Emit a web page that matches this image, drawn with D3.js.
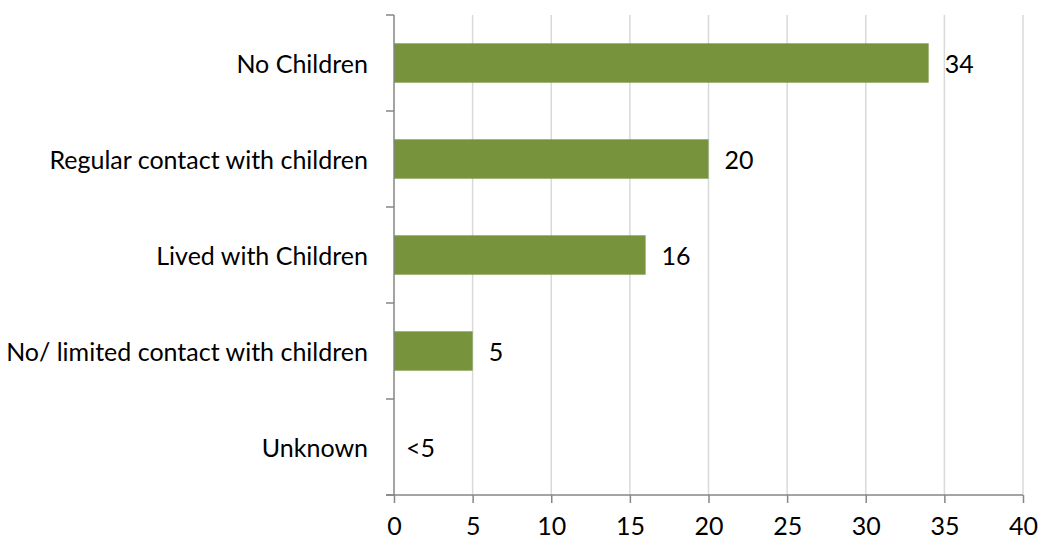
<!DOCTYPE html>
<html><head><meta charset="utf-8">
<script src="https://cdn.jsdelivr.net/npm/d3@7"></script>
<style>body{margin:0;background:#fff}svg text{font-family:Lato,"Open Sans",sans-serif;fill:#000}</style>
</head><body><svg id="c" width="1041" height="540"></svg>
<script>
const categories = ["No Children","Regular contact with children","Lived with Children","No/ limited contact with children","Unknown"];
const values = [34,20,16,5,0];
const valueLabels = ["34","20","16","5","<5"];
const xTicks = [0,5,10,15,20,25,30,35,40];

const W=1041,H=540,m={top:15,right:18,bottom:45,left:394};
const svg=d3.select("#c");
const x=d3.scaleLinear().domain([0,40]).range([m.left,W-m.right]);
const y=d3.scaleBand().domain(categories).range([m.top,H-m.bottom]).paddingInner(0.59).paddingOuter(0.295);
const fs=25;
// gridlines
svg.append("g").selectAll("line").data(xTicks.filter(d=>d>0)).join("line")
 .attr("x1",d=>x(d)).attr("x2",d=>x(d)).attr("y1",m.top).attr("y2",H-m.bottom)
 .attr("stroke","#D9D9D9").attr("stroke-width",1.5);
// bars
svg.append("g").selectAll("rect").data(values).join("rect")
 .attr("x",x(0)).attr("y",(d,i)=>y(categories[i])).attr("width",d=>x(d)-x(0)).attr("height",y.bandwidth())
 .attr("fill","#77933C");
// value labels
svg.append("g").selectAll("text").data(values).join("text")
 .attr("x",d=>x(d)+(d>0?16:12)).attr("y",(d,i)=>y(categories[i])+y.bandwidth()/2).attr("dy","0.38em")
 .attr("font-size",fs).text((d,i)=>valueLabels[i]);
// x axis
const xa=svg.append("g").attr("transform",`translate(0,${H-m.bottom})`)
 .call(d3.axisBottom(x).tickValues(xTicks).tickSize(8).tickPadding(14));
// y axis with ticks at band boundaries
const ya=svg.append("g").attr("transform",`translate(${m.left},0)`)
 .call(d3.axisLeft(y).tickSize(0).tickPadding(26));
const step=y.step();
const bounds=d3.range(categories.length+1).map(i=>m.top+i*step);
ya.selectAll(".bnd").data(bounds).join("line").attr("class","bnd")
 .attr("x1",-8).attr("x2",0).attr("y1",d=>d).attr("y2",d=>d).attr("stroke","#868686").attr("stroke-width",1.5);
[xa,ya].forEach(a=>{a.select(".domain").attr("stroke","#868686").attr("stroke-width",1.5);
 a.selectAll(".tick line").attr("stroke","#868686").attr("stroke-width",1.5);
 a.selectAll(".tick text").attr("font-size",fs).attr("font-family","Lato,'Open Sans',sans-serif").attr("fill","#000");});
ya.selectAll(".tick text").attr("dy","0.38em");
ya.select(".domain").attr("d",`M0,${m.top}V${H-m.bottom}`);
xa.select(".domain").attr("d",`M${x(0)-8},0H${x(40)}`);
</script></body></html>
